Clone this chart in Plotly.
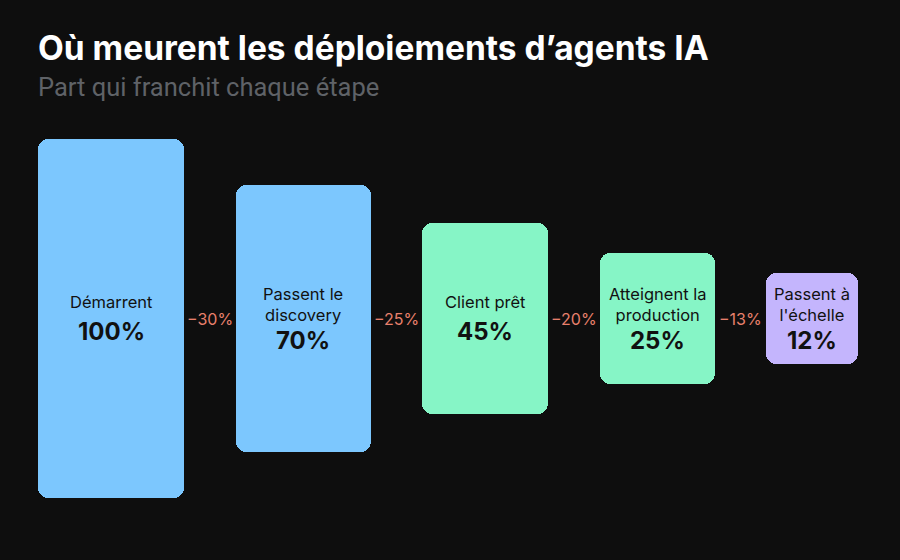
import plotly.graph_objects as go

# ---- data ----
stages = ["Démarrent", "Passent le<br>discovery", "Client prêt", "Atteignent la<br>production", "Passent à<br>l'échelle"]
shares = [100, 70, 45, 25, 12]
colors = ["#7cc7fe", "#7cc7fe", "#86f5c6", "#86f5c6", "#c4b5fd"]
title = "Où meurent les déploiements d’agents IA"
subtitle = "Part qui franchit chaque étape"

# ---- styling / layout parameters ----
W, H = 900, 560
BG = "#0e0e0e"
PX_PER_UNIT = 3.045       # vertical scale (pixels per percentage point)
PAD_UNITS = 17.8          # minimum box height padding, in percentage units
CENTER_PX = 318.5         # vertical center of boxes from top
box_widths = [146, 135, 126, 115, 92]
GAP = 51.5
LEFT = 38

xs = []
cur = LEFT
for w in box_widths:
    xs.append(cur + w / 2)
    cur += w + GAP

heights = [v + PAD_UNITS for v in shares]
bases = [-h / 2 for h in heights]

fig = go.Figure()
fig.add_trace(go.Bar(
    x=xs, y=heights, base=bases, width=box_widths,
    marker=dict(color=colors, line=dict(width=0), cornerradius=10),
    hoverinfo="skip", showlegend=False,
))

annotations = []
for x, lab, v in zip(xs, stages, shares):
    n = lab.count("<br>") + 1
    annotations.append(dict(
        x=x, y=0, xref="x", yref="y", text=lab, showarrow=False,
        font=dict(family="Inter", size=16.5, color="#111111"),
        yanchor="middle", xanchor="center", yshift=16.5 - 2 * (n - 1),
    ))
    annotations.append(dict(
        x=x, y=0, xref="x", yref="y", text=f"<b>{v}%</b>", showarrow=False,
        font=dict(family="Inter", size=24, color="#111111"),
        yanchor="middle", xanchor="center", yshift=-12.5 - 9 * (n - 1),
    ))

for i in range(len(shares) - 1):
    right_edge = xs[i] + box_widths[i] / 2
    left_edge = xs[i + 1] - box_widths[i + 1] / 2
    drop = shares[i] - shares[i + 1]
    annotations.append(dict(
        x=(right_edge + left_edge) / 2, y=0, xref="x", yref="y",
        text=f"−{drop}%", showarrow=False,
        font=dict(family="Inter", size=16, color="#e8806c"),
        yanchor="middle", xanchor="center",
    ))

annotations.append(dict(
    x=LEFT / W, y=1 - 48 / H, xref="paper", yref="paper", text=f"<b>{title}</b>",
    showarrow=False, xanchor="left", yanchor="middle", xshift=-2,
    font=dict(family="Inter", size=33.5, color="#ffffff"),
))
annotations.append(dict(
    x=LEFT / W, y=1 - 87 / H, xref="paper", yref="paper", text=subtitle,
    showarrow=False, xanchor="left", yanchor="middle", xshift=-2,
    font=dict(family="Roboto", size=25.5, color="#5f6267"),
))

top_units = CENTER_PX / PX_PER_UNIT
bottom_units = (H - CENTER_PX) / PX_PER_UNIT

fig.update_layout(
    width=W, height=H,
    margin=dict(l=0, r=0, t=0, b=0),
    paper_bgcolor=BG, plot_bgcolor=BG,
    xaxis=dict(range=[0, W], visible=False, fixedrange=True),
    yaxis=dict(range=[-bottom_units, top_units], visible=False, fixedrange=True),
    annotations=annotations,
    bargap=0,
)

fig.write_html(
    "out.html",
    config={"displayModeBar": False},
    post_script="document.body.style.margin='0';document.body.style.background='#0e0e0e';",
)
